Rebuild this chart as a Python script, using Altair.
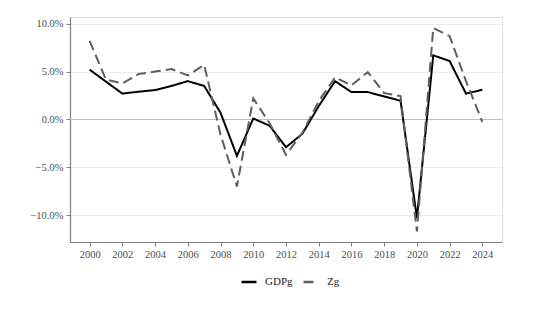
import altair as alt
import pandas as pd

years = list(range(2000, 2025))
gdpg = [5.2, 3.95, 2.7, 2.9, 3.07, 3.5, 4.0, 3.5, 0.7, -3.8, 0.1, -0.66, -2.9, -1.5, 1.4,
        4.0, 2.86, 2.86, 2.4, 1.95, -10.3, 6.7, 6.1, 2.7, 3.1]
zg = [8.2, 4.15, 3.77, 4.75, 5.0, 5.27, 4.6, 5.7, -1.6, -7.0, 2.2, -0.4, -3.7, -1.4, 1.9,
      4.4, 3.56, 4.95, 2.75, 2.44, -11.7, 9.56, 8.7, 4.0, -0.25]
zg_years = years[:len(zg)]

rows = []
for y, v in zip(years, gdpg):
    rows.append({"year": y, "value": v / 100, "series": "GDPg"})
for y, v in zip(zg_years, zg):
    rows.append({"year": y, "value": v / 100, "series": "Zg"})
df = pd.DataFrame(rows)

font = "Liberation Serif"
x_ticks = list(range(2000, 2025, 2))
y_ticks = [-0.10, -0.05, 0.0, 0.05, 0.10]

legend_kw = dict(title=None, orient="none", direction="horizontal",
                 legendX=170, legendY=256, symbolType="stroke",
                 symbolSize=225, symbolStrokeWidth=2.5,
                 labelFont=font, labelFontSize=11, labelColor="#222222",
                 columnPadding=5, labelOffset=7)

lines = alt.Chart(df).mark_line(strokeWidth=2, clip=True).encode(
    x=alt.X("year:Q", scale=alt.Scale(domain=[1998.8, 2025.2], nice=False, zero=False),
            axis=alt.Axis(values=x_ticks, format="d", grid=False, title=None,
                          domainColor="#7f7f7f", tickColor="#7f7f7f", tickSize=4,
                          labelFont=font, labelFontSize=10.5, labelColor="#4d4d4d",
                          labelPadding=3, domainWidth=1.2)),
    y=alt.Y("value:Q", scale=alt.Scale(domain=[-0.128, 0.107], nice=False, zero=False),
            axis=alt.Axis(values=y_ticks, format=".1%", title=None, grid=True,
                          gridColor="#ebebeb", domainColor="#7f7f7f", tickColor="#7f7f7f",
                          tickSize=4, labelFont=font, labelFontSize=10.5,
                          labelColor="#4d4d4d", labelPadding=3, domainWidth=1.2)),
    color=alt.Color("series:N", scale=alt.Scale(domain=["GDPg", "Zg"], range=["#000000", "#5e5e5e"]),
                    legend=alt.Legend(**legend_kw)),
    strokeDash=alt.StrokeDash("series:N", scale=alt.Scale(domain=["GDPg", "Zg"], range=[[1, 0], [10, 5]]),
                              legend=alt.Legend(**legend_kw)),
)

zero = alt.Chart(pd.DataFrame({"z": [0.0]})).mark_rule(color="#bdbdbd", strokeWidth=1).encode(y="z:Q")

chart = alt.layer(zero, lines).properties(
    width=432, height=225,
    autosize=alt.AutoSizeParams(type="none"),
    padding={"left": 62, "top": 9, "right": 29, "bottom": 61},
).configure_view(stroke=None).configure(background="white")

chart.save("out.html", embed_options={"renderer": "svg", "actions": False})
